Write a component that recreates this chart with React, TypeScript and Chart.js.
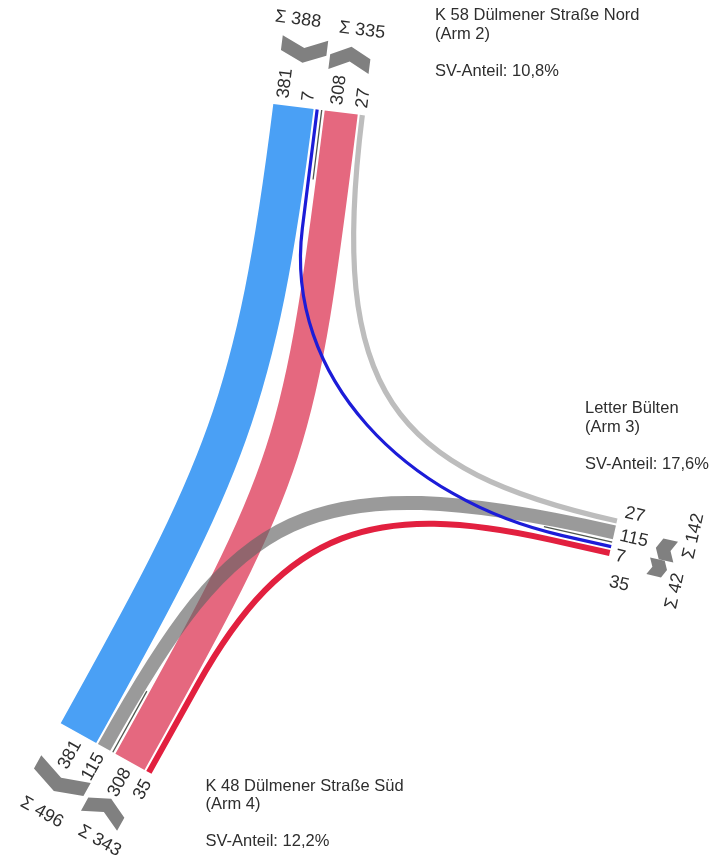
import React, { useEffect, useRef } from "react";
import { Chart, registerables } from "chart.js";

Chart.register(...registerables);

// ---------------- data ----------------
const ARM_IDS = [2, 3, 4];
const ARM_NAMES = ["K 58 Dülmener Straße Nord", "Letter Bülten", "K 48 Dülmener Straße Süd"];
const ARM_SV_SHARE = ["10,8%", "17,6%", "12,2%"];

// flows (index: 0..5)
const FLOW_FROM = [2, 2, 3, 3, 4, 4];
const FLOW_TO = [4, 3, 2, 4, 2, 3];
const FLOW_VALUES = [381, 7, 27, 115, 308, 35];

// ---------------- layout / style ----------------
const CANVAS_W = 712;
const CANVAS_H = 855;

type Vec = [number, number];

type ArmGeom = {
  origin: Vec;
  angle: number; // degrees, direction along which lanes are stacked
  entering: number[]; // flow indices
  leaving: number[];
  laneLabelShift: number[];
  laneLabelGap: number;
  chevronShift: [number, number];
  chevronOut: [number, number];
  sigmaShift: [number, number];
  sigmaOut: [number, number];
  title: Vec;
};

const ARM_GEOM: Record<number, ArmGeom> = {
  2: {
    origin: [273.3, 104],
    angle: 7.1,
    entering: [0, 1],
    leaving: [4, 2],
    laneLabelShift: [-11, -10, -5, -1],
    laneLabelGap: 7,
    chevronShift: [0.9, -1.5],
    chevronOut: [57, 54],
    sigmaShift: [-8.8, 7],
    sigmaOut: [87, 84],
    title: [435, 20],
  },
  3: {
    origin: [617.5, 518.5],
    angle: 102.7,
    entering: [2, 3],
    leaving: [1, 5],
    laneLabelShift: [-10, 2, 8, 28],
    laneLabelGap: 6,
    chevronShift: [9.4, 6.6],
    chevronOut: [54, 50],
    sigmaShift: [-10.1, 25.2],
    sigmaOut: [78, 72],
    title: [585, 413],
  },
  4: {
    origin: [151.5, 773.8],
    angle: 209.1,
    entering: [5, 4],
    leaving: [3, 0],
    laneLabelShift: [-3, -1, 0, -3],
    laneLabelGap: 8,
    chevronShift: [2.4, 1.4],
    chevronOut: [54, 50],
    sigmaShift: [-7.9, 1.5],
    sigmaOut: [84, 87],
    title: [205.5, 790.7],
  },
};

// per flow: [straight at start, handle at start, handle at end, straight at end]
const FLOW_SHAPE: [number, number, number, number][] = [
  [0, 300, 300, 0],
  [120, 150, 160, 50],
  [0, 230, 280, 0],
  [0, 320, 270, 0],
  [0, 340, 340, 0],
  [100, 180, 180, 60],
];
const FLOW_COLORS = ["#4aa0f5", "#1c1cd8", "#bdbdbd", "rgba(100,100,100,0.65)", "#e5687f", "#e2203f"];
const DRAW_ORDER = [0, 4, 2, 3, 5, 1];

const GAP_IN = 2;
const GAP_DIR = 6;
const laneWidth = (v: number) => 0.1 * v + 2.5;

const FONT = '"Liberation Sans", Arial, sans-serif';
const TEXT_COLOR = "#2e2e2e";
const CHEVRON_COLOR = "#808080";
const DIVIDER_COLOR = "#4f564f";

// ---------------- helpers ----------------
const add = (a: Vec, b: Vec): Vec => [a[0] + b[0], a[1] + b[1]];
const mul = (a: Vec, s: number): Vec => [a[0] * s, a[1] * s];

function armVectors(g: ArmGeom) {
  const r = (g.angle * Math.PI) / 180;
  const u: Vec = [Math.cos(r), Math.sin(r)];
  const inward: Vec = [-u[1], u[0]];
  const outward: Vec = [u[1], -u[0]];
  return { u, inward, outward };
}

type Lane = { flow: number; start: number; end: number; center: number; entering: boolean };

function layoutArm(armId: number) {
  const g = ARM_GEOM[armId];
  const all = [...g.entering, ...g.leaving];
  const lanes: Lane[] = [];
  let pos = 0;
  let divider = 0;
  all.forEach((f, i) => {
    if (i > 0) {
      if (i === g.entering.length) {
        divider = pos + GAP_DIR / 2;
        pos += GAP_DIR;
      } else pos += GAP_IN;
    }
    const w = laneWidth(FLOW_VALUES[f]);
    lanes.push({ flow: f, start: pos, end: pos + w, center: pos + w / 2, entering: i < g.entering.length });
    pos += w;
  });
  return { lanes, divider };
}

const junctionPlugin = {
  id: "junction",
  afterDraw(chart: any) {
    const ctx: CanvasRenderingContext2D = chart.ctx;
    const xs = chart.scales.x;
    const ys = chart.scales.y;
    const P = (p: Vec): Vec => [xs.getPixelForValue(p[0]), ys.getPixelForValue(p[1])];
    const k = Math.abs(xs.getPixelForValue(100) - xs.getPixelForValue(0)) / 100;

    const layouts: Record<number, ReturnType<typeof layoutArm>> = {};
    ARM_IDS.forEach((a) => (layouts[a] = layoutArm(a)));
    const laneOf = (arm: number, flow: number) => layouts[arm].lanes.find((l) => l.flow === flow)!;

    ctx.save();

    // flows
    DRAW_ORDER.forEach((f) => {
      const ga = ARM_GEOM[FLOW_FROM[f]];
      const gb = ARM_GEOM[FLOW_TO[f]];
      const va = armVectors(ga);
      const vb = armVectors(gb);
      const la = laneOf(FLOW_FROM[f], f);
      const lb = laneOf(FLOW_TO[f], f);
      const [sA, hA, hB, sB] = FLOW_SHAPE[f];
      const p0 = add(ga.origin, mul(va.u, la.center));
      const a1 = add(p0, mul(va.inward, sA));
      const c1 = add(a1, mul(va.inward, hA));
      const p3 = add(gb.origin, mul(vb.u, lb.center));
      const b1 = add(p3, mul(vb.inward, sB));
      const c2 = add(b1, mul(vb.inward, hB));
      const q0 = P(p0), qa = P(a1), qc1 = P(c1), qc2 = P(c2), qb = P(b1), q3 = P(p3);
      ctx.beginPath();
      ctx.moveTo(q0[0], q0[1]);
      ctx.lineTo(qa[0], qa[1]);
      ctx.bezierCurveTo(qc1[0], qc1[1], qc2[0], qc2[1], qb[0], qb[1]);
      ctx.lineTo(q3[0], q3[1]);
      ctx.lineWidth = laneWidth(FLOW_VALUES[f]) * k;
      ctx.lineCap = "butt";
      ctx.lineJoin = "round";
      ctx.strokeStyle = FLOW_COLORS[f];
      ctx.stroke();
    });

    // per arm decorations
    ARM_IDS.forEach((armId, ai) => {
      const g = ARM_GEOM[armId];
      const { u, inward, outward } = armVectors(g);
      const { lanes, divider } = layouts[armId];

      // divider line
      const d0 = add(g.origin, mul(u, divider));
      const d1 = add(d0, mul(inward, 70));
      const e0 = P(d0), e1 = P(d1);
      ctx.beginPath();
      ctx.moveTo(e0[0], e0[1]);
      ctx.lineTo(e1[0], e1[1]);
      ctx.lineWidth = 1.3 * k;
      ctx.strokeStyle = DIVIDER_COLOR;
      ctx.stroke();

      // lane labels
      ctx.fillStyle = TEXT_COLOR;
      ctx.font = `${18 * k}px ${FONT}`;
      ctx.textBaseline = "middle";
      lanes.forEach((l, i) => {
        const pos = add(add(g.origin, mul(u, l.center + g.laneLabelShift[i])), mul(outward, g.laneLabelGap));
        let ang = Math.atan2(outward[1], outward[0]);
        let align: CanvasTextAlign = "left";
        if (Math.cos(ang) < -1e-6) {
          ang += Math.PI;
          align = "right";
        }
        const q = P(pos);
        ctx.save();
        ctx.translate(q[0], q[1]);
        ctx.rotate(ang);
        ctx.textAlign = align;
        ctx.fillText(String(FLOW_VALUES[l.flow]), 0, 0);
        ctx.restore();
      });

      // chevrons + sums (0: entering, 1: leaving)
      [true, false].forEach((isEntering, gi) => {
        const group = lanes.filter((l) => l.entering === isEntering);
        const gStart = group[0].start;
        const gEnd = group[group.length - 1].end;
        const gCenter = (gStart + gEnd) / 2;
        const W = Math.max(gEnd - gStart, 17);
        const T = 15;
        const D = Math.min(10, W * 0.25);
        const dir = isEntering ? inward : outward;
        const c = add(add(g.origin, mul(u, gCenter + g.chevronShift[gi])), mul(outward, g.chevronOut[gi]));
        const pt = (a: number, b: number) => P(add(add(c, mul(u, a)), mul(dir, b)));
        const pts = [
          pt(-W / 2, -D / 2 + T / 2),
          pt(0, D / 2 + T / 2),
          pt(W / 2, -D / 2 + T / 2),
          pt(W / 2, -D / 2 - T / 2),
          pt(0, D / 2 - T / 2),
          pt(-W / 2, -D / 2 - T / 2),
        ];
        ctx.beginPath();
        pts.forEach((p, i) => (i === 0 ? ctx.moveTo(p[0], p[1]) : ctx.lineTo(p[0], p[1])));
        ctx.closePath();
        ctx.fillStyle = CHEVRON_COLOR;
        ctx.fill();

        const sum = group.reduce((s, l) => s + FLOW_VALUES[l.flow], 0);
        const lp = add(add(g.origin, mul(u, gCenter + g.sigmaShift[gi])), mul(outward, g.sigmaOut[gi]));
        let ang = Math.atan2(u[1], u[0]);
        if (Math.cos(ang) < -1e-6) ang += Math.PI;
        const q = P(lp);
        ctx.save();
        ctx.translate(q[0], q[1]);
        ctx.rotate(ang);
        ctx.fillStyle = TEXT_COLOR;
        ctx.font = `${18 * k}px ${FONT}`;
        ctx.textAlign = "center";
        ctx.textBaseline = "middle";
        ctx.fillText("Σ " + sum, 0, 0);
        ctx.restore();
      });

      // title block
      const lines = [ARM_NAMES[ai], `(Arm ${armId})`, "", `SV-Anteil: ${ARM_SV_SHARE[ai]}`];
      ctx.fillStyle = TEXT_COLOR;
      ctx.font = `${16.5 * k}px ${FONT}`;
      ctx.textAlign = "left";
      ctx.textBaseline = "alphabetic";
      lines.forEach((t, i) => {
        const q = P([g.title[0], g.title[1] + i * 18.5]);
        if (t) ctx.fillText(t, q[0], q[1]);
      });
    });

    ctx.restore();
  },
};

export default function App() {
  const ref = useRef<HTMLCanvasElement>(null);
  useEffect(() => {
    document.body.style.margin = "0";
    const chart = new Chart(ref.current as HTMLCanvasElement, {
      type: "scatter",
      data: { datasets: [] },
      options: {
        animation: false,
        responsive: false,
        layout: { padding: 0 },
        plugins: { legend: { display: false }, tooltip: { enabled: false } },
        scales: {
          x: { type: "linear", min: 0, max: CANVAS_W, display: false },
          y: { type: "linear", min: 0, max: CANVAS_H, reverse: true, display: false },
        },
      },
      plugins: [junctionPlugin as any],
    });
    return () => chart.destroy();
  }, []);
  return (
    <div style={{ width: CANVAS_W, height: CANVAS_H, background: "#ffffff" }}>
      <canvas ref={ref} width={CANVAS_W} height={CANVAS_H} style={{ display: "block" }} />
    </div>
  );
}
